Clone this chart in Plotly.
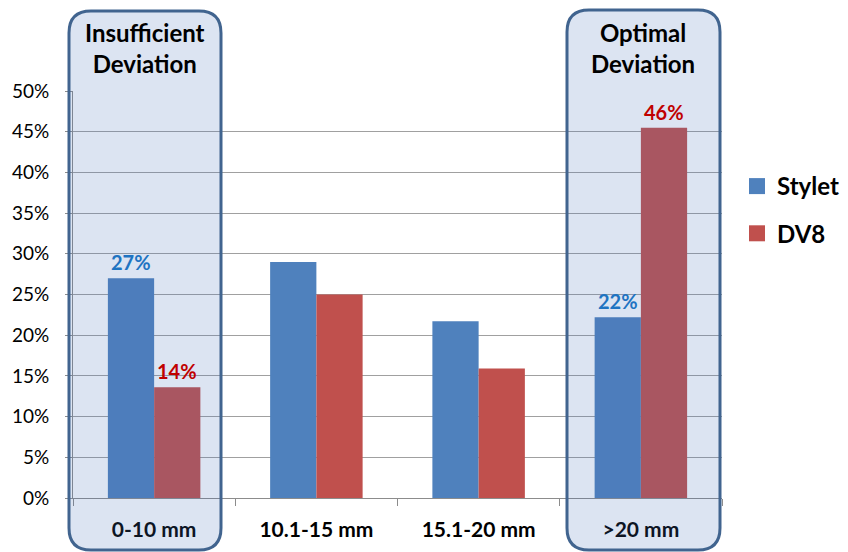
import plotly.graph_objects as go

categories = ["0-10 mm", "10.1-15 mm", "15.1-20 mm", ">20 mm"]
stylet = [27.0, 29.0, 21.7, 22.2]
dv8 = [13.6, 25.0, 15.9, 45.5]
tick_vals = [0, 5, 10, 15, 20, 25, 30, 35, 40, 45, 50]
tick_text = [f"{v}%" for v in tick_vals]
# labelled bars: (series, category index, text)
labels = [("Stylet", 0, "27%"), ("DV8", 0, "14%"), ("Stylet", 3, "22%"), ("DV8", 3, "46%")]
box_titles = [(0, "Insufficient<br>Deviation"), (3, "Optimal<br>Deviation")]

BLUE = "#4F81BD"
RED = "#C0504D"
FONT = "Lato"

W, H = 848, 552
L, R, T, B = 73, 722, 91, 498  # plot area in pixels

fig = go.Figure()
fig.add_trace(go.Bar(x=categories, y=stylet, name="Stylet", marker=dict(color=BLUE, line=dict(width=0)), showlegend=False))
fig.add_trace(go.Bar(x=categories, y=dv8, name="DV8", marker=dict(color=RED, line=dict(width=0)), showlegend=False))
# legend proxies with larger squares
fig.add_trace(go.Scatter(x=[None], y=[None], mode="markers", name="<b>Stylet</b>", legendgroup="a",
                         marker=dict(symbol="square", size=19, color=BLUE)))
fig.add_trace(go.Scatter(x=[None], y=[None], mode="markers", name="<b>DV8</b>", legendgroup="b",
                         marker=dict(symbol="square", size=19, color=RED)))

def px2paper(px, py):
    return (px - L) / (R - L), (B - py) / (B - T)

def rounded_path(x0, y0, x1, y1, r):
    def P(x, y):
        a, b = px2paper(x, y)
        return f"{a:.5f},{b:.5f}"
    d = f"M{P(x0 + r, y0)} L{P(x1 - r, y0)} Q{P(x1, y0)} {P(x1, y0 + r)} "
    d += f"L{P(x1, y1 - r)} Q{P(x1, y1)} {P(x1 - r, y1)} "
    d += f"L{P(x0 + r, y1)} Q{P(x0, y1)} {P(x0, y1 - r)} "
    d += f"L{P(x0, y0 + r)} Q{P(x0, y0)} {P(x0 + r, y0)} Z"
    return d

boxes_px = [(69, 11, 221, 550), (567, 10, 720, 550)]
for (x0, y0, x1, y1) in boxes_px:
    fig.add_shape(type="path", xref="paper", yref="paper", path=rounded_path(x0, y0, x1, y1, 22),
                  fillcolor="rgba(71,113,186,0.19)", line=dict(color="#41648F", width=3), layer="above")

bar_w = (1 - 0.43) / 2
for series, idx, txt in labels:
    vals = stylet if series == "Stylet" else dv8
    off = -bar_w / 2 if series == "Stylet" else bar_w / 2
    color = "#1F74C2" if series == "Stylet" else "#C00000"
    fig.add_annotation(x=idx + off, y=vals[idx], xref="x", yref="y", text=f"<b>{txt}</b>",
                       showarrow=False, yanchor="bottom", xanchor="center", yshift=2,
                       font=dict(family=FONT, size=20, color=color))

box_centers = [145, 643]
for (idx, txt), cx in zip(box_titles, box_centers):
    xp, _ = px2paper(cx, 0)
    fig.add_annotation(x=xp, y=1, xref="paper", yref="paper", text=f"<b>{txt}</b>",
                       showarrow=False, yanchor="bottom", xanchor="center", yshift=11,
                       font=dict(family=FONT, size=24, color="black"))

fig.update_layout(
    width=W, height=H,
    margin=dict(l=L, r=W - R, t=T, b=H - B, pad=0, autoexpand=False),
    paper_bgcolor="white", plot_bgcolor="white",
    barmode="group", bargap=0.43, bargroupgap=0,
    font=dict(family=FONT, color="black"),
    hovermode=False,
    legend=dict(xref="container", yref="container", x=737 / W, y=1 - 164 / H,
                xanchor="left", yanchor="top", traceorder="grouped",
                font=dict(family=FONT, size=24, color="black"),
                tracegroupgap=13, itemwidth=30, bgcolor="rgba(0,0,0,0)"),
    xaxis=dict(type="category", showgrid=False, showline=True, linecolor="#8C8C8C", linewidth=1,
               ticks="outside", ticklen=7, tickcolor="#8C8C8C", tickson="boundaries",
               tickfont=dict(family=FONT, size=21, color="black"),
               ticklabelstandoff=13, range=[-0.5, 3.5], automargin=False),
    yaxis=dict(range=[0, 50], tickvals=tick_vals, ticktext=tick_text,
               showgrid=True, gridcolor="#A0A0A0", gridwidth=1, zeroline=False,
               showline=True, linecolor="#8C8C8C", linewidth=1,
               ticks="outside", ticklen=7, tickcolor="#8C8C8C", automargin=False,
               tickfont=dict(family=FONT, size=19, color="black"), ticklabelstandoff=12),
)
fig.update_xaxes(ticktext=[f"<b>{c}</b>" for c in categories], tickvals=categories)

fig.write_html("out.html", config={"displayModeBar": False},
               post_script="document.body.style.margin='0';")
